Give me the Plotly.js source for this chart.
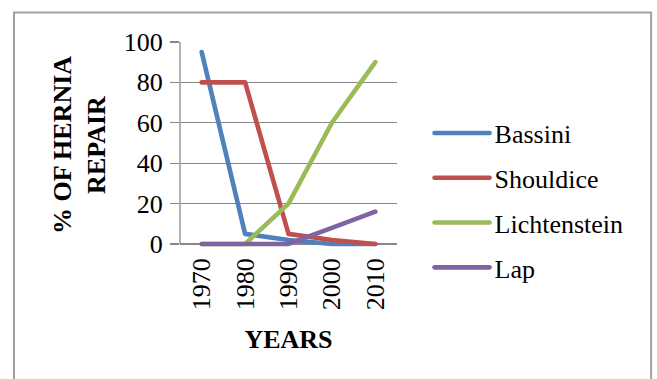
<!DOCTYPE html>
<html>
<head>
<meta charset="utf-8">
<script src="https://cdn.plot.ly/plotly-3.0.1.min.js"></script>
<style>
  html, body { margin: 0; padding: 0; background: #fff; }
  #chart { width: 657px; height: 379px; }
  #chart .scatterlayer path.js-line { stroke-linecap: round; stroke-linejoin: round; }
  #chart .legendlines path { stroke-linecap: round; }
</style>
</head>
<body>
<div id="chart"></div>
<script>
const years = ['1970', '1980', '1990', '2000', '2010'];
const seriesNames = ['Bassini', 'Shouldice', 'Lichtenstein', 'Lap'];
const bassini = [95, 5, 2, 0, 0];
const shouldice = [80, 80, 5, 2, 0];
const lichtenstein = [0, 0, 20, 60, 90];
const lap = [0, 0, 0, 8, 16];
const yTicks = [0, 20, 40, 60, 80, 100];
const colors = ['#4F81BD', '#C0504D', '#9BBB59', '#8064A2'];

const seriesValues = [bassini, shouldice, lichtenstein, lap];
const FONT = '"Liberation Serif", "Times New Roman", serif';
const AXIS_GRAY = '#888888';

const traces = seriesValues.map((vals, i) => ({
  type: 'scatter',
  mode: 'lines',
  x: years,
  y: vals,
  name: seriesNames[i],
  legendgroup: 'g' + i,
  cliponaxis: false,
  line: { color: colors[i], width: 4.6, shape: 'linear' },
  hoverinfo: 'skip'
}));

const layout = {
  width: 657,
  height: 379,
  margin: { l: 180, r: 260, t: 42, b: 131 },
  paper_bgcolor: '#ffffff',
  plot_bgcolor: '#ffffff',
  font: { family: FONT, size: 26, color: '#000000' },
  showlegend: true,
  legend: {
    x: 1.15, y: 0.672, xanchor: 'left', yanchor: 'top',
    font: { family: FONT, size: 26, color: '#000' },
    tracegroupgap: 8,
    itemwidth: 55,
    bgcolor: 'rgba(0,0,0,0)'
  },
  xaxis: {
    type: 'category',
    categoryorder: 'array',
    categoryarray: years,
    range: [-0.5, 4.5],
    tickangle: -90,
    showgrid: false,
    showline: false,
    zeroline: false,
    ticks: '',
    ticklabelstandoff: 4,
    tickfont: { family: FONT, size: 26, color: '#000' },
    title: { text: '<b>YEARS</b>', font: { family: FONT, size: 26, color: '#000' }, standoff: 20 }
  },
  yaxis: {
    range: [-2, 100],
    tickvals: yTicks,
    ticktext: yTicks.map(String),
    showgrid: true,
    gridcolor: AXIS_GRAY,
    gridwidth: 1.3,
    showline: false,
    zeroline: false,
    ticks: 'outside',
    ticklen: 9,
    tickcolor: AXIS_GRAY,
    tickwidth: 1.3,
    ticklabelstandoff: 2,
    tickfont: { family: FONT, size: 26, color: '#000' },
    title: { text: '<b>% OF HERNIA<br>REPAIR</b>', font: { family: FONT, size: 26, color: '#000' }, standoff: 10 }
  },
  shapes: [{
    type: 'rect', xref: 'paper', yref: 'paper',
    x0: -0.765, x1: 2.171, y0: -1.2, y1: 1.1436,
    line: { color: '#A0A0A0', width: 2 },
    fillcolor: 'rgba(0,0,0,0)',
    layer: 'below'
  }, {
    type: 'line', xref: 'paper', yref: 'y',
    x0: 0, x1: 0, y0: 0, y1: 100,
    line: { color: AXIS_GRAY, width: 1.3 },
    layer: 'below'
  }]
};

Plotly.newPlot('chart', traces, layout, { staticPlot: true, displayModeBar: false });
</script>
</body>
</html>
